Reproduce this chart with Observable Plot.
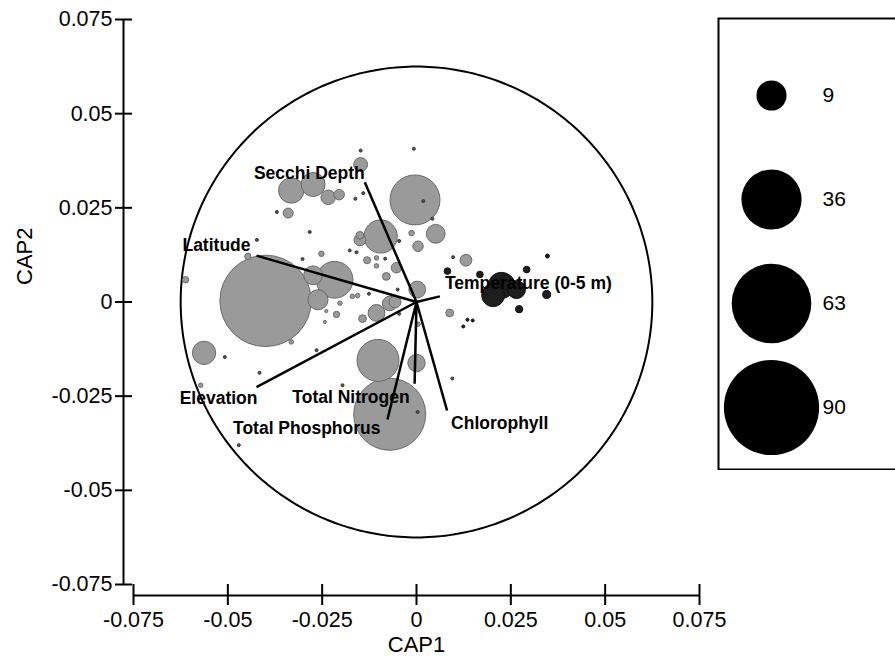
<!DOCTYPE html>
<html><head><meta charset="utf-8">
<script src="https://cdn.jsdelivr.net/npm/d3@7"></script>
<script src="https://cdn.jsdelivr.net/npm/@observablehq/plot@0.6"></script>
<style>
html,body{margin:0;padding:0;background:#fff;}
#wrap{position:relative;width:895px;height:656px;overflow:hidden;background:#fff;}
#legend{position:absolute;left:717px;top:17px;width:200px;height:453px;}
#main{position:absolute;left:0;top:0;width:895px;height:656px;}
svg{max-width:none !important;}
</style></head><body><div id="wrap"><div id="main"></div><div id="legend"></div></div>
<script>
// ---- data ----
const siteX = [
  -0.0148,-0.0332,-0.0274,-0.0234,-0.0205,-0.0004,-0.0340,-0.0095,-0.0150,-0.0150,
   0.0051,-0.0013, 0.0004,-0.0252,-0.0131,-0.0106,-0.0106,-0.0053,-0.0080,-0.0447,
  -0.0612,-0.0400,-0.0217,-0.0274,-0.0261, 0.0002,-0.0170,-0.0156,-0.0203,-0.0239,
  -0.0212,-0.0243,-0.0143,-0.0106,-0.0071,-0.0057, 0.0004,-0.0332,-0.0563,-0.0102,
   0.0000,-0.0572,-0.0071, 0.0088, 0.0131,
  -0.0148,-0.0007, 0.0018,-0.0141,-0.0162,-0.0370, 0.0042,-0.0283,-0.0423,-0.0046,
  -0.0177,-0.0159,-0.0302,-0.0083,-0.0050,-0.0126,-0.0046,-0.0265,-0.0508,-0.0416,
  -0.0196, 0.0095, 0.0003,-0.0471, 0.0097,
   0.0135, 0.0149, 0.0124, 0.0082, 0.0168, 0.0292, 0.0347, 0.0345, 0.0272, 0.0203,
   0.0225, 0.0265, 0.0239
];
const siteY = [
   0.0365, 0.0296, 0.0312, 0.0278, 0.0285, 0.0271, 0.0236, 0.0174, 0.0165, 0.0177,
   0.0181, 0.0183, 0.0148, 0.0128, 0.0111, 0.0117, 0.0096, 0.0091, 0.0068, 0.0121,
   0.0059, 0.0003, 0.0059, 0.0071, 0.0006, 0.0033, 0.0015, 0.0017,-0.0003,-0.0024,
  -0.0033,-0.0053,-0.0044,-0.0029,-0.0004, 0.0000,-0.0059,-0.0106,-0.0135,-0.0155,
  -0.0162,-0.0221,-0.0298,-0.0029, 0.0111,
   0.0402, 0.0407, 0.0268, 0.0289, 0.0274, 0.0239, 0.0221, 0.0186, 0.0165, 0.0162,
   0.0137, 0.0132, 0.0114, 0.0115, 0.0033, 0.0022,-0.0031,-0.0128,-0.0146,-0.0188,
  -0.0221,-0.0203,-0.0292,-0.0380, 0.0119,
  -0.0047,-0.0049,-0.0065, 0.0082, 0.0073, 0.0086, 0.0122, 0.0020,-0.0019, 0.0018,
   0.0044, 0.0033, 0.0053
];
const siteSize = [
  1.9, 6.4, 5.7, 2.1, 1.1, 24.8, 1.0, 11.0, 1.4, 0.6,
  3.5, 0.3, 1.1, 0.3, 0.5, 0.2, 0.2, 1.1, 0.6, 0.4,
  0.4, 82.9, 13.4, 3.5, 4.0, 2.8, 0.2, 0.2, 0.2, 0.1,
  0.4, 0.1, 0.6, 2.8, 2.1, 1.4, 0.2, 0.2, 5.4, 17.5,
  3.0, 0.2, 51.5, 0.6, 1.4,
  0.09,0.09,0.09,0.09,0.09,0.09,0.09,0.09,0.09,0.09,
  0.09,0.09,0.09,0.09,0.09,0.09,0.09,0.09,0.09,0.09,
  0.09,0.09,0.09,0.09,0.09,
  0.09,0.09,0.09,0.44,0.44,0.44,0.16,0.64,0.53,5.2,
  6.8, 3.2, 2.1
];
const siteGroup = [
  ...Array(45).fill("gray"),
  ...Array(25).fill("tiny"),
  ...Array(13).fill("dark")
];

const vecNames = ["Secchi Depth","Latitude","Temperature (0-5 m)","Elevation","Total Nitrogen","Total Phosphorus","Chlorophyll"];
const vecX = [-0.0137,-0.0424, 0.0062,-0.0424,-0.0005,-0.0077, 0.0081];
const vecY = [ 0.0318, 0.0123, 0.0015,-0.0226,-0.0217,-0.0312,-0.0288];

const circleRadius = 0.0625;

const xTicks = [-0.075,-0.05,-0.025,0,0.025,0.05,0.075];
const xTickLabels = ["-0.075","-0.05","-0.025","0","0.025","0.05","0.075"];
const yTicks = [-0.075,-0.05,-0.025,0,0.025,0.05,0.075];
const yTickLabels = ["-0.075","-0.05","-0.025","0","0.025","0.05","0.075"];

const legendValues = [9, 36, 63, 90];

// ---- styling ----
const FONT = '"Liberation Sans", Arial, Helvetica, sans-serif';
const rScale = {type: "sqrt", domain: [0, 90], range: [0, 47.6]};
const fills = {gray: "#9a9a9a", tiny: "#555555", dark: "#1e1e1e"};
const strokes = {gray: "#6a6a6a", tiny: "#333333", dark: "#111111"};
const labelStyle = {
  "Secchi Depth": {anchor: "end", dx: 0, dy: -9},
  "Latitude": {anchor: "end", dx: -6, dy: -10},
  "Temperature (0-5 m)": {anchor: "start", dx: 5, dy: -13},
  "Elevation": {anchor: "end", dx: 1, dy: 11},
  "Total Nitrogen": {anchor: "end", dx: -5, dy: 14},
  "Total Phosphorus": {anchor: "end", dx: -7, dy: 9},
  "Chlorophyll": {anchor: "start", dx: 4, dy: 13}
};

const xLab = new Map(xTicks.map((v, i) => [v, xTickLabels[i]]));
const yLab = new Map(yTicks.map((v, i) => [v, yTickLabels[i]]));
const idx = siteX.map((_, i) => i);
const vidx = vecNames.map((_, i) => i);
const circle = d3.range(0, 360, 1).map(a => ({
  x: circleRadius * Math.cos(a * Math.PI / 180),
  y: circleRadius * Math.sin(a * Math.PI / 180)
}));

const main = Plot.plot({
  width: 895, height: 656,
  marginLeft: 133, marginRight: 196, marginTop: 19, marginBottom: 72,
  x: {domain: [-0.075, 0.075]},
  y: {domain: [-0.075, 0.075]},
  r: rScale,
  color: {type: "identity"},
  style: {fontFamily: FONT, background: "white", color: "black"},
  marks: [
    Plot.line(circle, {x: "x", y: "y", stroke: "black", strokeWidth: 2, curve: "linear-closed"}),
    Plot.dot(idx, {
      x: i => siteX[i], y: i => siteY[i], r: i => siteSize[i],
      fill: i => fills[siteGroup[i]], stroke: i => strokes[siteGroup[i]], strokeWidth: 1
    }),
    Plot.link(vidx, {x1: 0, y1: 0, x2: i => vecX[i], y2: i => vecY[i], stroke: "black", strokeWidth: 2.5}),
    ...vidx.map(i => Plot.text([i], {
      x: j => vecX[j], y: j => vecY[j], text: j => vecNames[j],
      textAnchor: labelStyle[vecNames[i]].anchor,
      dx: labelStyle[vecNames[i]].dx, dy: labelStyle[vecNames[i]].dy,
      fontSize: 17.5, fontWeight: "bold", fill: "black"
    })),
    Plot.ruleX([-0.075], {y1: -0.075, y2: 0.075, dx: -10, stroke: "black", strokeWidth: 2}),
    Plot.ruleY([-0.075], {x1: -0.075, x2: 0.075, dy: 11, stroke: "black", strokeWidth: 2}),
    Plot.axisY(yTicks, {tickSize: 17, dx: -1, tickPadding: 3, tickFormat: d => yLab.get(d),
      fontSize: 21.5, strokeWidth: 2, label: null}),
    Plot.axisX(xTicks, {tickSize: 21, tickPadding: 6, tickFormat: d => xLab.get(d),
      fontSize: 21.5, strokeWidth: 2, label: null}),
    Plot.text(["CAP1"], {frameAnchor: "bottom", text: d => d, dy: 60, fontSize: 22, lineAnchor: "middle"}),
    Plot.text(["CAP2"], {frameAnchor: "left", text: d => d, dx: -109, dy: -17, rotate: -90, fontSize: 22, lineAnchor: "middle"})
  ]
});
document.getElementById("main").appendChild(main);

const legend = Plot.plot({
  width: 200, height: 453,
  marginLeft: 1, marginRight: 1, marginTop: 1, marginBottom: 1,
  x: {domain: [0, 1], range: [54, 199], axis: null},
  y: {type: "point", domain: legendValues, range: [77, 390], padding: 0, axis: null},
  r: rScale,
  style: {fontFamily: FONT, background: "white", color: "black"},
  marks: [
    Plot.frame({stroke: "black", strokeWidth: 2}),
    Plot.dot(legendValues, {x: 0, y: d => d, r: d => d, fill: "black"}),
    Plot.text(legendValues, {x: 0, y: d => d, text: d => String(d), dx: 51, textAnchor: "start", fontSize: 21})
  ]
});
document.getElementById("legend").appendChild(legend);
</script></body></html>
